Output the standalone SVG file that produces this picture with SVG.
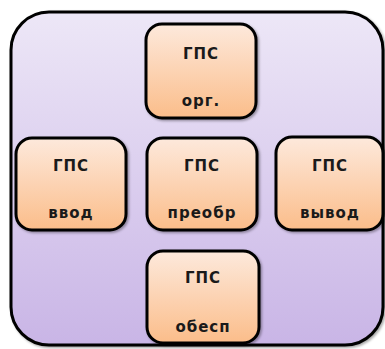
<svg xmlns="http://www.w3.org/2000/svg" width="385" height="349" viewBox="0 0 385 349">
<defs>
<linearGradient id="bg" x1="0" y1="0" x2="0" y2="1">
<stop offset="0" stop-color="#ede7f7"/>
<stop offset="1" stop-color="#c9b5e6"/>
</linearGradient>
<linearGradient id="nf" x1="0" y1="0" x2="0" y2="1">
<stop offset="0" stop-color="#fde9dc"/>
<stop offset="1" stop-color="#fbbd8a"/>
</linearGradient>
<filter id="sh" x="-10%" y="-10%" width="130%" height="130%">
<feDropShadow dx="1.5" dy="1.5" stdDeviation="1.2" flood-color="#000" flood-opacity="0.35"/>
</filter>
</defs>
<style>
.node{fill:url(#nf);stroke:#000;stroke-width:3;filter:url(#sh)}
.t{font-family:"DejaVu Sans",sans-serif;font-weight:bold;font-size:15px;fill:#1a1a1a;text-anchor:middle;letter-spacing:1px}
</style>
<rect x="11" y="12" width="372" height="333" rx="38" fill="url(#bg)" stroke="#000" stroke-width="3" filter="url(#sh)"/>
<g id="connectors"/>
<g id="n-org">
<rect class="node" x="146" y="24" width="110" height="94" rx="16"/>
<text class="t" x="201" y="59">ГПС</text>
<text class="t" x="201" y="106">орг.</text>
</g>
<g id="n-vvod">
<rect class="node" x="16" y="138" width="110" height="92" rx="16"/>
<text class="t" x="71" y="171">ГПС</text>
<text class="t" x="71" y="218">ввод</text>
</g>
<g id="n-preobr">
<rect class="node" x="147" y="138" width="110" height="92" rx="16"/>
<text class="t" x="202" y="171">ГПС</text>
<text class="t" x="202" y="218">преобр</text>
</g>
<g id="n-vyvod">
<rect class="node" x="276" y="137" width="107" height="93" rx="16"/>
<text class="t" x="330" y="171">ГПС</text>
<text class="t" x="330" y="218">вывод</text>
</g>
<g id="n-obesp">
<rect class="node" x="147" y="251" width="112" height="92" rx="16"/>
<text class="t" x="203" y="283">ГПС</text>
<text class="t" x="203" y="332">обесп</text>
</g>
</svg>
